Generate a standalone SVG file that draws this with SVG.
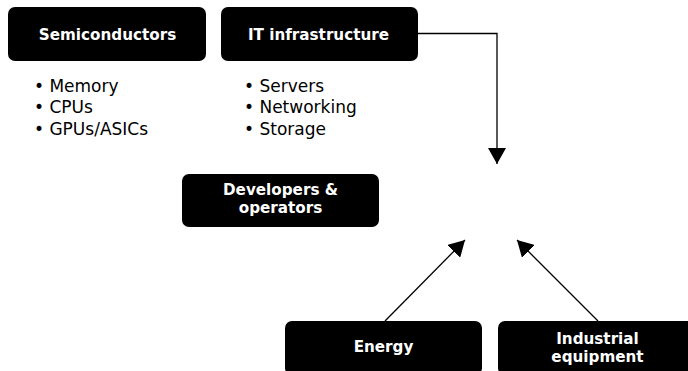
<svg xmlns="http://www.w3.org/2000/svg" width="688" height="371" viewBox="0 0 688 371">
<style>
.box{fill:#000}
.lbl{font-family:"DejaVu Sans","Liberation Sans",sans-serif;font-weight:bold;font-size:15.2px;fill:#fff;text-anchor:middle}
.item{font-family:"DejaVu Sans","Liberation Sans",sans-serif;font-size:17px;fill:#000}
.conn{fill:none;stroke:#000;stroke-width:1.3}
</style>
<defs>
<marker id="arr" markerUnits="userSpaceOnUse" viewBox="0 0 16 18" markerWidth="16" markerHeight="18" refX="16" refY="9" orient="auto">
<path d="M0,0 L16,9 L0,18 z" fill="#000"/>
</marker>
</defs>
<rect width="688" height="371" fill="#fff"/>
<g id="connectors">
<path class="conn" d="M418,33.5 H497 V164" marker-end="url(#arr)"/>
<path class="conn" d="M385,321 L465,240" marker-end="url(#arr)"/>
<path class="conn" d="M598,321 L517,240" marker-end="url(#arr)"/>
</g>
<g id="semiconductors">
<rect class="box" x="8" y="7" width="198" height="54" rx="7"/>
<text class="lbl" x="107.5" y="39.5">Semiconductors</text>
<text class="item" x="34" y="91.5">• Memory</text>
<text class="item" x="34" y="113">• CPUs</text>
<text class="item" x="34" y="134.5">• GPUs/ASICs</text>
</g>
<g id="it-infrastructure">
<rect class="box" x="221" y="7" width="197" height="54" rx="7"/>
<text class="lbl" x="318.5" y="39.5">IT infrastructure</text>
<text class="item" x="244" y="91.5">• Servers</text>
<text class="item" x="244" y="113">• Networking</text>
<text class="item" x="244" y="134.5">• Storage</text>
</g>
<g id="developers">
<rect class="box" x="182" y="174" width="197" height="53" rx="7"/>
<text class="lbl" x="280.5" y="195">Developers &amp;</text>
<text class="lbl" x="280.5" y="213">operators</text>
</g>
<g id="energy">
<rect class="box" x="285" y="321" width="197" height="54" rx="7"/>
<text class="lbl" x="383.5" y="352">Energy</text>
</g>
<g id="industrial">
<rect class="box" x="498" y="321" width="199" height="54" rx="7"/>
<text class="lbl" x="597.5" y="344">Industrial</text>
<text class="lbl" x="597.5" y="362">equipment</text>
</g>
</svg>
